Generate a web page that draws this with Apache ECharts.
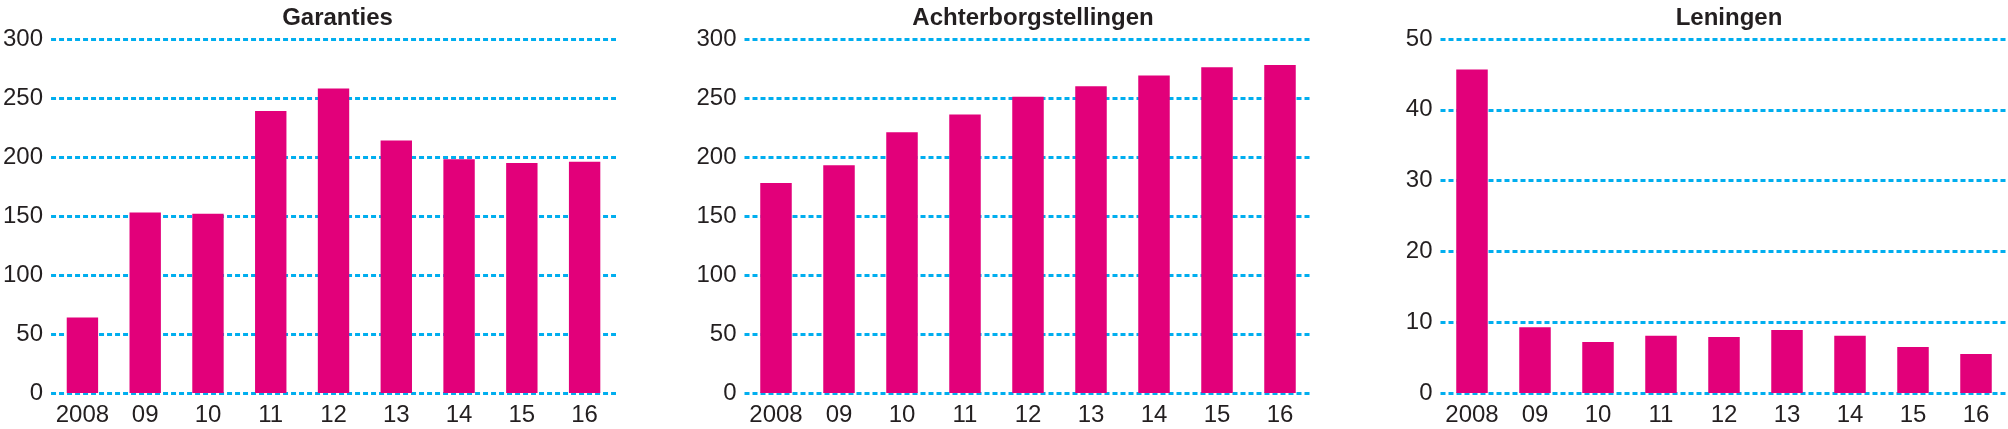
<!DOCTYPE html>
<html>
<head>
<meta charset="utf-8">
<script src="https://cdn.jsdelivr.net/npm/echarts@6/dist/echarts.min.js"></script>
<style>
html,body{margin:0;padding:0;background:#fff;}
#c{width:2008px;height:429px;}
</style>
</head>
<body>
<div id="c"></div>
<script>
const categories = ['2008','09','10','11','12','13','14','15','16'];
const titles = ['Garanties','Achterborgstellingen','Leningen'];
const garanties = [64, 153, 152, 239, 258, 214, 198, 195, 196];
const achterborgstellingen = [178, 193, 221, 236, 251, 260, 269, 276, 278];
const leningen = [45.7, 9.3, 7.2, 8.1, 7.9, 8.9, 8.1, 6.5, 5.5];
const yMax = [300, 300, 50];
const yInterval = [50, 50, 10];

const seriesData = [garanties, achterborgstellingen, leningen];
const lefts = [49, 744.5, 1440.5];
const W = 567, TOP = 39, H = 354;
const TXT = '#231f20', BAR = '#e2007a', GRID = '#00aeef';
const FONT = '"Liberation Sans", Arial, sans-serif';

const chart = echarts.init(document.getElementById('c'), null, {renderer:'canvas'});
const option = {
  animation:false,
  backgroundColor:'#fff',
  title: titles.map((t,i)=>({
    text:t, left: lefts[i] + W/2, top: 1, textAlign:'center',
    textStyle:{fontFamily:FONT, fontWeight:'bold', fontSize:24, color:TXT}
  })),
  grid: lefts.map(l=>({left:l, top:TOP, width:W, height:H, containLabel:false})),
  xAxis: lefts.map((l,i)=>({
    type:'category', gridIndex:i, data:categories,
    axisLine:{show:false}, axisTick:{show:false},
    axisLabel:{fontFamily:FONT, fontSize:24, color:TXT, margin:10, interval:0}
  })),
  yAxis: lefts.map((l,i)=>({
    type:'value', gridIndex:i, min:0, max:yMax[i], interval:yInterval[i],
    axisLine:{show:false}, axisTick:{show:false},
    axisLabel:{fontFamily:FONT, fontSize:24, color:TXT, margin:8},
    splitLine:{show:true, lineStyle:{color:GRID, width:3, type:[5,3]}}
  })),
  series: seriesData.map((d,i)=>({
    type:'bar', xAxisIndex:i, yAxisIndex:i, data:d, barWidth:'50%',
    itemStyle:{color:BAR}
  }))
};
chart.setOption(option);
</script>
</body>
</html>
